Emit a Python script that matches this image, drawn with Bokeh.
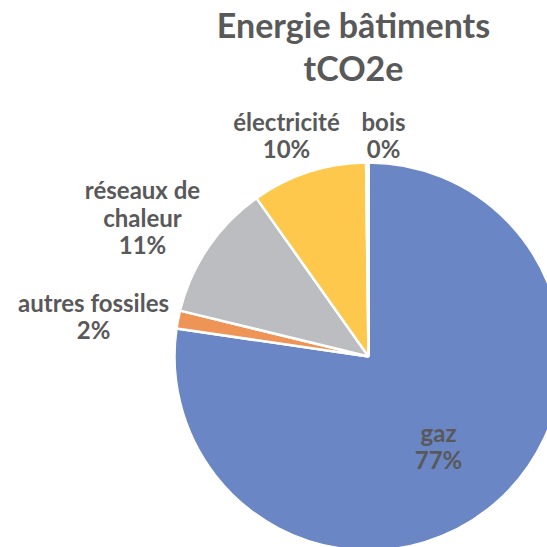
import math
from bokeh.plotting import figure
from bokeh.models import Range1d, ColumnDataSource
from bokeh.embed import file_html
from bokeh.resources import INLINE
from bokeh.core.properties import value

# ---- data ----
categories = ["gaz", "autres fossiles", "réseaux de\nchaleur", "électricité", "bois"]
shares = [77.3, 1.5, 11.4, 9.6, 0.2]
title_lines = ["Energie bâtiments", "tCO2e"]

# ---- style / layout ----
colors = ["#6A86C5", "#EF9457", "#BCBDC0", "#FDC84C", "#8FB4E0"]
TEXT = "#595959"
FONT = "Lato"
W = H = 547
OFF = 0  # page offset of the figure


def X(px):
    return px - OFF


def Y(py):
    return (H + OFF) - py


p = figure(width=W, height=H, x_range=Range1d(0, W), y_range=Range1d(0, H),
           output_backend="svg", toolbar_location=None, min_border=0)
p.axis.visible = False
p.grid.visible = False
p.outline_line_color = None
p.background_fill_color = "white"

# pie geometry (pixel-based layout)
cx, cy, R = X(368), Y(356), 194

total = sum(shares)
starts, ends = [], []
cum = 0.0
for s in shares:
    a0 = math.pi / 2 - 2 * math.pi * cum / total
    cum += s
    a1 = math.pi / 2 - 2 * math.pi * cum / total
    starts.append(a1)
    ends.append(a0)

src = ColumnDataSource(dict(start=starts, end=ends, color=colors, cat=categories))
p.wedge(x=cx, y=cy, radius=R, start_angle="start", end_angle="end", direction="anticlock",
        fill_color="color", line_color="white", line_width=2.5, source=src)

# labels: anchor = (center x, baseline of last line) in page pixels
LFS = 24
TFS = 34
BASE = 0.44  # empirical baseline correction (fraction of font size)
anchors = [(438, 470), (93, 340), (142, 255), (286, 159), (383, 159)]
LH = 27.5
lx, ly, lt = [], [], []
for cat, s, (ax, ay) in zip(categories, shares, anchors):
    lines = cat.split("\n") + ["%d%%" % int(s / total * 100 + 0.5)]
    n = len(lines)
    for i, t in enumerate(lines):
        lx.append(X(ax))
        ly.append(Y(ay - (n - 1 - i) * LH - BASE * LFS))
        lt.append(t)
p.text(x=lx, y=ly, text=lt, text_align="center", text_baseline="alphabetic",
       text_font=value(FONT), text_font_style="bold", text_font_size="%dpx" % LFS, text_color=TEXT)

# title
tx = [X(353)] * 2
ty = [Y(39 - BASE * TFS), Y(82 - BASE * TFS)]
p.text(x=tx, y=ty, text=title_lines, text_align="center", text_baseline="alphabetic",
       text_font=value(FONT), text_font_style="bold", text_font_size="%dpx" % TFS, text_color=TEXT)

open("out.html", "w").write(file_html(p, INLINE))
